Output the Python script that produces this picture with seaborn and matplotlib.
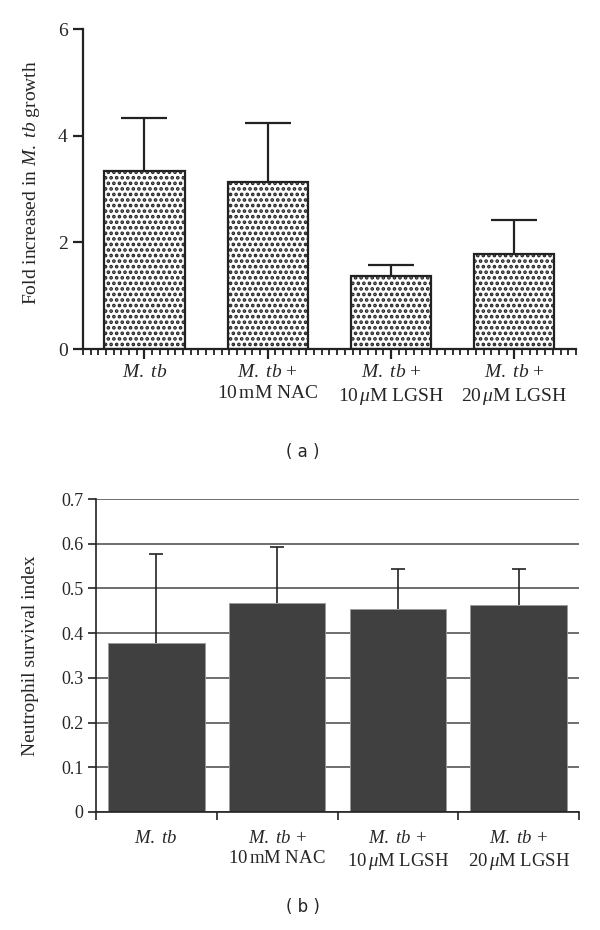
import numpy as np
import pandas as pd
import seaborn as sns
import matplotlib.pyplot as plt
from matplotlib.ticker import MultipleLocator, FixedLocator, NullFormatter

# data
groups = ['M. tb', 'M. tb + 10 mM NAC', 'M. tb + 10 uM LGSH', 'M. tb + 20 uM LGSH']
tick_labels = [r'$\mathit{M.\ tb}$',
               r'$\mathit{M.\ tb}$ +' + '\n' + r'10$\,$mM NAC',
               r'$\mathit{M.\ tb}$ +' + '\n' + r'10$\,\mathit{\mu}$M LGSH',
               r'$\mathit{M.\ tb}$ +' + '\n' + r'20$\,\mathit{\mu}$M LGSH']
growth_mean = [3.34, 3.14, 1.37, 1.78]
growth_err = [0.99, 1.10, 0.21, 0.64]
survival_mean = [0.379, 0.468, 0.455, 0.462]
survival_err = [0.198, 0.125, 0.088, 0.081]

df_a = pd.DataFrame({'group': groups, 'value': growth_mean})
df_b = pd.DataFrame({'group': groups, 'value': survival_mean})

sns.set_style('white')
plt.rcParams['font.family'] = ['Liberation Serif', 'DejaVu Serif']
plt.rcParams['mathtext.fontset'] = 'custom'
plt.rcParams['mathtext.rm'] = 'Liberation Serif'
plt.rcParams['mathtext.it'] = 'Liberation Serif:italic'
plt.rcParams['hatch.linewidth'] = 1.8
plt.rcParams['font.size'] = 14

fig = plt.figure(figsize=(6, 9.3), dpi=100)

# (a) fold increase in growth
ax1 = fig.add_axes([0.138, 0.6247, 0.822, 0.3441])
sns.barplot(data=df_a, x='group', y='value', ax=ax1, color='white',
            edgecolor='#222222', linewidth=1.6, width=0.65, errorbar=None)
for p in ax1.patches:
    p.set_hatch('...')
_, caps, _ = ax1.errorbar(range(4), growth_mean, yerr=[[0] * 4, growth_err], fmt='none',
                          ecolor='#222222', elinewidth=1.6, capsize=16.5, capthick=1.6,
                          zorder=0.9)
caps[0].remove()  # only the upper cap is drawn
ax1.set_xlim(-0.5, 3.5)
ax1.set_ylim(0, 6)
ax1.set_yticks([0, 2, 4, 6])
ax1.set_xticks(range(4))
ax1.set_xticklabels(tick_labels, linespacing=1.3)
ax1.xaxis.set_minor_locator(MultipleLocator(1 / 16))
ax1.xaxis.set_minor_formatter(NullFormatter())
ax1.tick_params(axis='both', which='major', direction='out', length=7, width=1.6,
                color='#222222', labelsize=14, bottom=True, left=True, pad=4)
ax1.tick_params(axis='x', which='minor', direction='out', length=4, width=1.3,
                color='#222222', bottom=True)
for s in ['top', 'right']:
    ax1.spines[s].set_visible(False)
for s in ['left', 'bottom']:
    ax1.spines[s].set_linewidth(1.6)
    ax1.spines[s].set_color('#222222')
ax1.set_xlabel('')
ax1.set_ylabel(r'Fold increased in $\mathit{M.\ tb}$ growth', fontsize=14)
ax1.yaxis.set_label_coords(-0.083, 0.52)
fig.text(0.505, 0.514, '( a )', ha='center', va='center', fontsize=12,
         family='DejaVu Sans')

# (b) neutrophil survival index
ax2 = fig.add_axes([0.16, 0.1269, 0.805, 0.3365])
ax2.set_axisbelow(True)
ax2.yaxis.grid(True, color='#555555', linewidth=1.2)
sns.barplot(data=df_b, x='group', y='value', ax=ax2, color='#404040',
            edgecolor='#9a9a9a', linewidth=0.6, width=0.8, errorbar=None,
            saturation=1)
_, caps, _ = ax2.errorbar(range(4), survival_mean, yerr=[[0] * 4, survival_err], fmt='none',
                          ecolor='#222222', elinewidth=1.2, capsize=5, capthick=1.2,
                          zorder=0.9)
caps[0].remove()
ax2.set_xlim(-0.5, 3.5)
ax2.set_ylim(0, 0.7)
ax2.set_yticks(np.arange(0, 0.71, 0.1))
ax2.set_yticklabels(['0', '0.1', '0.2', '0.3', '0.4', '0.5', '0.6', '0.7'])
ax2.set_xticks(range(4))
ax2.set_xticklabels(tick_labels, linespacing=1.25)
ax2.xaxis.set_minor_locator(FixedLocator([-0.5, 0.5, 1.5, 2.5, 3.5]))
ax2.tick_params(axis='x', which='major', length=0, labelsize=13.5, pad=13)
ax2.tick_params(axis='x', which='minor', direction='out', length=6, width=1.2,
                color='#222222', bottom=True)
ax2.tick_params(axis='y', which='major', direction='out', length=6, width=1.2,
                color='#222222', labelsize=13, left=True, pad=3)
for s in ['top', 'right']:
    ax2.spines[s].set_visible(False)
for s in ['left', 'bottom']:
    ax2.spines[s].set_linewidth(1.2)
    ax2.spines[s].set_color('#222222')
ax2.set_xlabel('')
ax2.set_ylabel('Neutrophil survival index', fontsize=14)
ax2.yaxis.set_label_coords(-0.118, 0.5)
fig.text(0.505, 0.025, '( b )', ha='center', va='center', fontsize=12,
         family='DejaVu Sans')

fig.savefig('out.png', dpi=100)
